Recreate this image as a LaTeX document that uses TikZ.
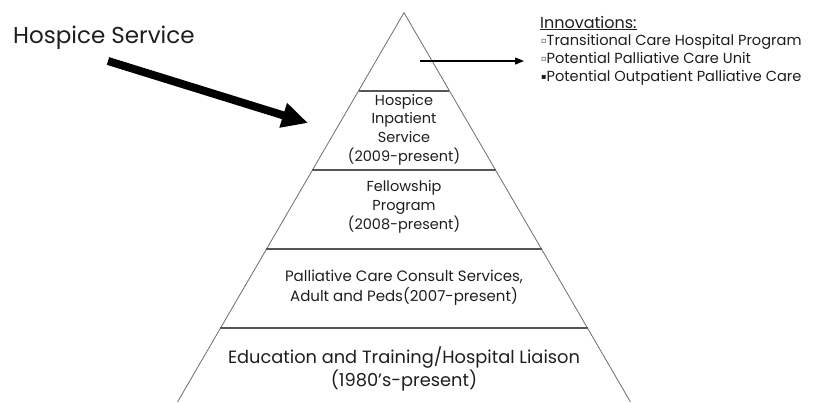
\documentclass[tikz,border=0pt]{standalone}
\usepackage{fontspec}
\setmainfont{Poppins}
\newfontfamily\symfont{DejaVu Sans}
\usetikzlibrary{arrows.meta}
\definecolor{sidegray}{RGB}{110,110,110}
\definecolor{bandgray}{RGB}{85,85,85}
\definecolor{txt}{RGB}{30,30,30}
\newcommand{\bxo}{\raisebox{1.8pt}{\symfont\fontsize{8}{8}\selectfont ▫}}
\newcommand{\bxf}{\raisebox{1.8pt}{\symfont\fontsize{8}{8}\selectfont ▪}}
\tikzset{
  side/.style={draw=sidegray, line width=0.8pt},
  band/.style={draw=bandgray, line width=1.1pt},
  lvl/.style={align=center, text=txt, inner sep=0pt, font=\fontsize{14.5}{18.7}\selectfont},
  lvlmid/.style={align=center, text=txt, inner sep=0pt, font=\fontsize{15}{20}\selectfont},
  lvlbig/.style={align=center, text=txt, inner sep=0pt, font=\fontsize{17.8}{23}\selectfont},
  inno/.style={anchor=base west, text=txt, inner sep=0pt, font=\fontsize{14.6}{16}\selectfont},
  bigarrow/.style={line width=8pt, -{Triangle[length=26pt,width=24pt]}},
  smallarrow/.style={line width=1.2pt, -{Triangle[length=9pt,width=7pt]}},
}
\begin{document}
\begin{tikzpicture}[x=1pt,y=-1pt]
\useasboundingbox (0,0) rectangle (824,402);
% pyramid sides
\coordinate (apex) at (404,12.7);
\coordinate (bl) at (404-226.5,402);
\coordinate (br) at (404+226.5,402);
\draw[side] (bl) -- (apex) -- (br);
% band lines (half width = 0.5823*(y-12.7))
\draw[band] (404-45.4,91) -- (404+45.4,91);
\draw[band] (404-91.6,170) -- (404+91.6,170);
\draw[band] (404-137.6,249) -- (404+137.6,249);
\draw[band] (404-183.6,328) -- (404+183.6,328);
% level texts
\node[lvl] (l4) at (404,129.5) {Hospice\\Inpatient\\Service\\(2009-present)};
\node[lvl] (l3) at (404,207) {Fellowship\\Program\\(2008-present)};
\node[lvlmid] (l2) at (404,288) {Palliative Care Consult Services,\\Adult and Peds(2007-present)};
\node[lvlbig] (l1) at (404,368.5) {Education and Training/Hospital Liaison\\(1980’s-present)};
% hospice service label and arrow
\node[anchor=base west, text=txt, inner sep=0pt, font=\fontsize{23}{27}\selectfont] (hs) at (13,43) {Hospice Service};
\coordinate (hsstart) at (108,61);
\coordinate (hsend) at (308,123);
\draw[bigarrow] (hsstart) -- (hsend);
% innovations
\coordinate (instart) at (420,61);
\coordinate (inend) at (524,61);
\draw[smallarrow] (instart) -- (inend);
\node[inno, font=\fontsize{16}{18}\selectfont] (ititle) at (540,28) {\underline{Innovations:}};
\node[inno] (i1) at (541,45) {\bxo Transitional Care Hospital Program};
\node[inno] (i2) at (541,63) {\bxo Potential Palliative Care Unit};
\node[inno] (i3) at (541,81) {\bxf Potential Outpatient Palliative Care};
\end{tikzpicture}
\end{document}
